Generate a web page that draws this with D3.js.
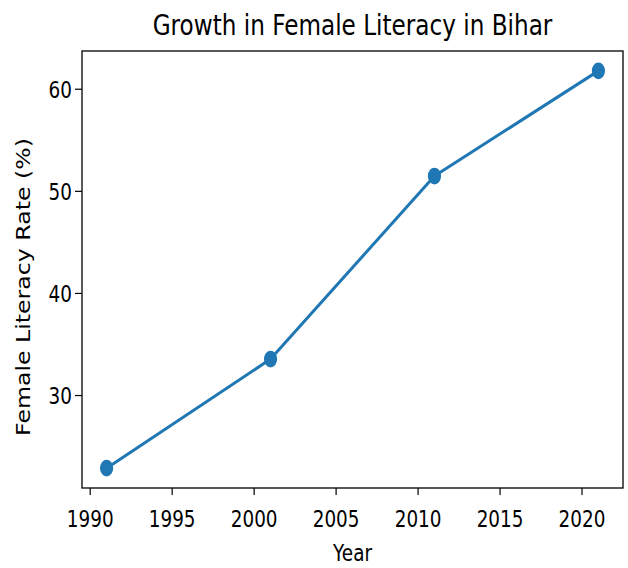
<!DOCTYPE html>
<html>
<head>
<meta charset="utf-8">
<script src="https://cdn.jsdelivr.net/npm/d3@7"></script>
<style>
  html, body { margin: 0; padding: 0; background: #fff; }
  svg { display: block; }
  text { font-family: "DejaVu Sans", sans-serif; fill: #000; }
</style>
</head>
<body>
<svg id="chart" width="628" height="568"></svg>
<script>
const years = [1991, 2001, 2011, 2021];
const literacy = [22.89, 33.57, 51.5, 61.8];
const xTicks = [1990, 1995, 2000, 2005, 2010, 2015, 2020];
const yTicks = [30, 40, 50, 60];
const titleText = "Growth in Female Literacy in Bihar";
const xLabel = "Year";
const yLabel = "Female Literacy Rate (%)";

const W = 628, H = 568;
const m = { left: 82, right: 623, top: 51, bottom: 488 };
const color = "#1f77b4";
const sx = 0.8;       // horizontal squeeze of the original rendering
const tickFont = 23;

const svg = d3.select("#chart");

function pad(ext) { const d = (ext[1] - ext[0]) * 0.05; return [ext[0] - d, ext[1] + d]; }
const x = d3.scaleLinear().domain(pad(d3.extent(years))).range([m.left, m.right]);
const y = d3.scaleLinear().domain(pad(d3.extent(literacy))).range([m.bottom, m.top]);

// squeezed text helper
function sText(g, str, px, py, size, anchor, fitWidth, rotate) {
  const t = g.append("text")
    .attr("font-size", size)
    .attr("text-anchor", anchor)
    .text(str);
  let s = sx;
  if (fitWidth) {
    const len = t.node().getComputedTextLength();
    s = rotate ? 1 : fitWidth / len;
    if (rotate) {
      const scaleLen = fitWidth / len;
      t.attr("font-size", size * scaleLen);
      s = sx;
    }
  }
  t.attr("transform", `translate(${px},${py}) scale(${s},1)` + (rotate ? " rotate(-90)" : ""));
  return t;
}

// line
const line = d3.line().x((d, i) => x(years[i])).y(d => y(d));
svg.append("path")
  .datum(literacy)
  .attr("d", line)
  .attr("fill", "none")
  .attr("stroke", color)
  .attr("stroke-width", 3)
  .attr("stroke-linejoin", "round");

svg.selectAll("ellipse.pt")
  .data(literacy)
  .join("ellipse")
  .attr("class", "pt")
  .attr("cx", (d, i) => x(years[i]))
  .attr("cy", d => y(d))
  .attr("rx", 6.6)
  .attr("ry", 8.4)
  .attr("fill", color);

// frame
svg.append("rect")
  .attr("x", m.left).attr("y", m.top)
  .attr("width", m.right - m.left).attr("height", m.bottom - m.top)
  .attr("fill", "none").attr("stroke", "#000").attr("stroke-width", 1.3);

// x axis ticks
const gx = svg.append("g");
xTicks.forEach(v => {
  gx.append("line").attr("x1", x(v)).attr("x2", x(v))
    .attr("y1", m.bottom).attr("y2", m.bottom + 7)
    .attr("stroke", "#000").attr("stroke-width", 1.2);
  sText(gx, String(v), x(v), 527, tickFont, "middle");
});

// y axis ticks
const gy = svg.append("g");
yTicks.forEach(v => {
  gy.append("line").attr("x1", m.left - 7).attr("x2", m.left)
    .attr("y1", y(v)).attr("y2", y(v))
    .attr("stroke", "#000").attr("stroke-width", 1.2);
  sText(gy, String(v), 72, y(v) + 8.4, tickFont, "end");
});

// labels
sText(svg, xLabel, (m.left + m.right) / 2, 561, tickFont, "middle");
sText(svg, yLabel, 30, 287, 20, "middle", 298, true);
sText(svg, titleText, (m.left + m.right) / 2, 35, 29, "middle", 400);
</script>
</body>
</html>
